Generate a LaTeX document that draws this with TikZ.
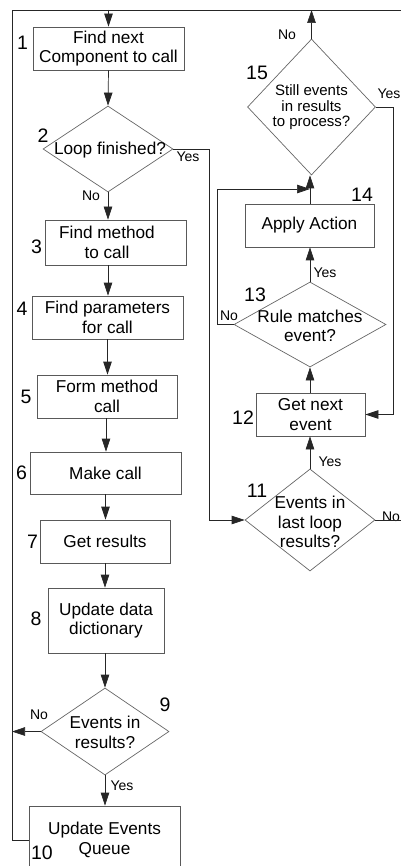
\documentclass[tikz,border=0pt]{standalone}
\usepackage{fontspec}
\setmainfont{Liberation Sans}
\usetikzlibrary{arrows.meta,shapes.geometric}
\newcommand\mymainf{\fontsize{17.2}{19.5}\selectfont}
\newcommand\mysmallf{\fontsize{15}{15.5}\selectfont}
\newcommand\mynumf{\fontsize{19.5}{20}\selectfont}
\newcommand\myynf{\fontsize{14}{15}\selectfont}
\begin{document}
\begin{tikzpicture}[x=1pt,y=-1pt,
  box/.style={draw=black!65,line width=0.7pt,rectangle,inner sep=0pt,align=center,font=\mymainf},
  dia/.style={draw=black!60,line width=0.7pt,diamond,inner sep=0pt},
  dtext/.style={align=center,inner sep=0pt,font=\mymainf},
  num/.style={font=\mynumf,inner sep=0pt},
  yn/.style={font=\myynf,inner sep=0pt},
  conn/.style={draw=black!85,line width=0.7pt},
  arr/.style={conn,-{Triangle[width=8.5pt,length=13pt]}}
]
\useasboundingbox (0,0) rectangle (401,866);
\clip (0,0) rectangle (401,866);

% boxes
\node[box,minimum width=151pt,minimum height=43pt] (b1) at (108.5,48.5) {Find next\\Component to call};
\node[box,minimum width=141pt,minimum height=45pt] (b3) at (115.5,242.5) {};
\node[dtext] (t3) at (107,242.5) {Find method\\to call};
\node[box,minimum width=151pt,minimum height=43pt] (b4) at (107.5,317.5) {Find parameters\\for call};
\node[box,minimum width=140pt,minimum height=43pt] (b5) at (107,396.5) {Form method\\call};
\node[box,minimum width=151pt,minimum height=42pt] (b6) at (105.5,473) {Make call};
\node[box,minimum width=130pt,minimum height=43pt] (b7) at (105,541.5) {Get results};
\node[box,minimum width=116pt,minimum height=65pt] (b8) at (106,620.5) {Update data\\dictionary};
\node[box,minimum width=151pt,minimum height=68pt] (b10) at (104.5,840) {Update Events\\Queue};
\node[box,minimum width=109pt,minimum height=43pt] (b12) at (310.5,414.5) {Get next\\event};
\node[box,minimum width=129pt,minimum height=43pt] (b14) at (309.5,225.5) {Apply Action};

% diamonds
\node[dia,minimum width=130pt,minimum height=86pt] (d2) at (108,149) {};
\node[dtext] (t2) at (110,150) {Loop finished?};
\node[dia,minimum width=128pt,minimum height=87pt] (d9) at (105,731.5) {};
\node[dtext] (t9) at (105,732.5) {Events in\\results?};
\node[dia,minimum width=130pt,minimum height=102pt] (d11) at (310,520) {};
\node[dtext] (t11) at (310,522) {Events in\\last loop\\results?};
\node[dia,minimum width=152pt,minimum height=85pt] (d13) at (310,324.5) {};
\node[dtext] (t13) at (310,326) {Rule matches\\event?};
\node[dia,minimum width=128pt,minimum height=136pt] (d15) at (311.5,107) {};
\node[dtext,font=\mysmallf] (t15) at (311.5,107.5) {Still events\\in results\\to process?};

% step numbers
\node[num] (n1) at (22.5,43) {1};
\node[num] (n2) at (43,136) {2};
\node[num] (n3) at (36.5,247) {3};
\node[num] (n4) at (22,309) {4};
\node[num] (n5) at (26,397) {5};
\node[num] (n6) at (21.5,473) {6};
\node[num] (n7) at (32.5,542) {7};
\node[num] (n8) at (36,619) {8};
\node[num] (n9) at (165,705) {9};
\node[num] (n10) at (42,853) {10};
\node[num] (n11) at (257,491) {11};
\node[num] (n12) at (243,418) {12};
\node[num] (n13) at (255,295) {13};
\node[num] (n14) at (362,195) {14};
\node[num] (n15) at (257,73) {15};

% yes/no labels
\node[yn] (y2) at (188,157) {Yes};
\node[yn] (o2) at (91,196) {No};
\node[yn] (o9) at (39,715) {No};
\node[yn] (y9) at (122,786) {Yes};
\node[yn] (y11) at (330,462) {Yes};
\node[yn] (o11) at (391,517) {No};
\node[yn] (y13) at (325,273) {Yes};
\node[yn] (o13) at (229,316) {No};
\node[yn] (o15) at (287,35) {No};
\node[yn] (y15) at (389,94) {Yes};

% helper coordinates
\coordinate (tl) at (12,10);
\coordinate (tr) at (401,10);
\coordinate (r11) at (401,520);
\coordinate (j14) at (310,189);
\coordinate (t15) at (311.5,10);

% main chain
\draw[conn] (b10.west) -| (tl) -- (tr);
\draw[arr] (b1.north |- tl) -- (b1.north);
\draw[arr] (b1.south) -- (d2.north);
\draw[arr] (d2.south) -- (d2.south |- b3.north);
\draw[arr] (b3.south -| d2.south) -- (b4.north -| d2.south);
\draw[arr] (b4.south) -- (b5.north -| b4.south);
\draw[arr] (b5.south -| 106,0) -- (b6.north -| 106,0);
\draw[arr] (b6.south -| 105.5,0) -- (b7.north -| 105.5,0);
\draw[arr] (b7.south) -- (b8.north -| b7.south);
\draw[arr] (b8.south -| d9.north) -- (d9.north);
\draw[arr] (d9.south) -- (b10.north -| d9.south);
\draw[arr] (d9.west) -- (d9.west -| tl);

% right column
\draw[arr] (d2.east) -- ++(36,0) |- (d11.west);
\draw[conn] (d11.east) -- (r11);
\draw[arr] (d11.north) -- (b12.south -| d11.north);
\draw[arr] (b12.north -| d13.south) -- (d13.south);
\draw[arr] (d13.north) -- (b14.south -| d13.north);
\draw[arr] (d13.west) -- ++(-16,0) |- (j14);
\draw[arr] (b14.north -| j14) -- (d15.south -| j14);
\draw[arr] (d15.north) -- (t15);
\draw[arr] (d15.east) -- ++(17.5,0) |- (b12.east);
\end{tikzpicture}
\end{document}
